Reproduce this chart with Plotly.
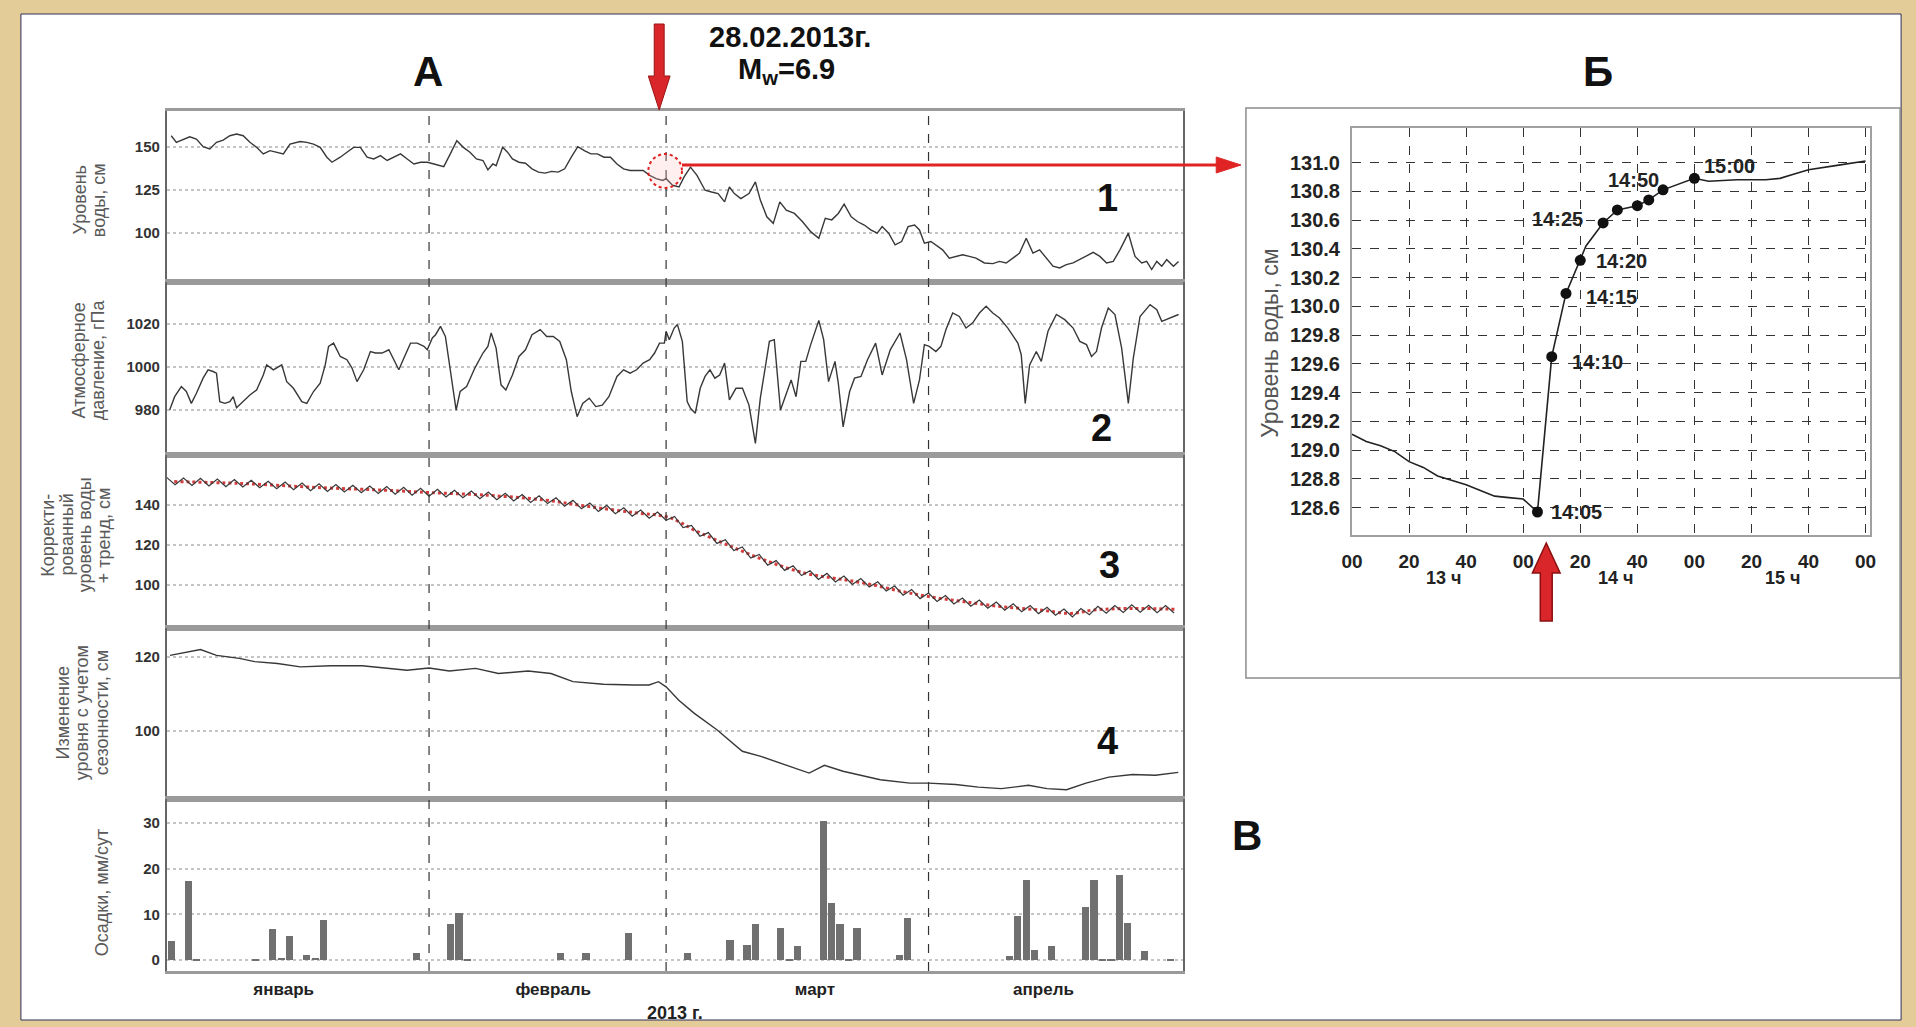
import plotly.graph_objects as go
import pandas as pd

W, H = 1916, 1027
BASE = pd.Timestamp("2013-01-01")

# ---------------- DATA ----------------
# Panel 1: water level, cm  (day offsets from 1 Jan 2013)
p1_day = [0.55, 1.15, 2.73, 3.52, 4.31, 5.10, 5.89, 6.68, 7.47, 8.26,
          9.05, 9.84, 10.63, 11.42, 12.21, 13.00, 13.79, 14.58, 15.77, 16.56,
          17.35, 18.14, 18.93, 19.53, 20.51, 21.30, 22.09, 22.89, 23.68, 24.47,
          25.26, 26.05, 26.84, 27.63, 28.42, 29.21, 30.0, 30.8, 31.58, 32.74,
          33.51, 34.28, 35.05, 35.83, 36.60, 37.37, 37.95, 38.53, 38.92, 39.69,
          40.27, 40.85, 41.62, 42.39, 43.16, 43.93, 44.71, 45.48, 46.25, 47.02,
          47.80, 48.57, 49.34, 50.11, 50.88, 51.66, 52.43, 53.20, 53.97, 54.75,
          55.52, 56.29, 57.06, 57.83, 58.61,
          59.0, 59.77, 60.53, 61.11, 61.88, 62.65, 63.60, 64.37, 65.14, 65.91,
          66.48, 67.06, 67.83, 68.79, 69.55, 70.13, 70.90, 71.66, 72.43, 73.20,
          74.16, 75.12, 76.08, 77.04, 77.80, 78.57, 79.34, 80.03, 80.87, 81.64,
          82.41, 83.17, 83.94, 84.52, 85.29, 86.05, 86.82, 87.59, 88.35, 88.93,
          89.51, 90.28, 90.87, 91.66, 92.45, 93.24, 94.03, 94.82, 95.61, 96.60,
          97.59, 98.38, 99.17, 99.96, 100.75, 101.54, 102.33, 103.12, 103.91, 104.70,
          105.49, 106.28, 107.08, 107.87, 108.66, 109.45, 110.24, 111.03, 111.82, 112.61,
          113.60, 114.39, 115.18, 115.77, 116.36, 116.96, 117.55, 118.14, 118.93, 119.53]
p1_val = [156.3, 152.5, 155.7, 154.4, 150.0, 148.7, 152.5, 153.8, 156.3, 157.3,
          156.3, 152.5, 149.6, 145.8, 147.7, 146.8, 145.8, 151.5, 153.0, 152.5,
          151.5, 149.6, 143.9, 141.0, 143.9, 146.8, 149.6, 149.6, 143.9, 142.9,
          144.8, 142.0, 143.9, 145.8, 142.9, 140.0, 141.0, 141.0, 140.0, 138.5,
          145.8, 153.4, 149.6, 146.8, 142.9, 142.0, 136.6, 140.0, 139.0, 149.6,
          146.8, 142.9, 141.0, 140.4, 137.2, 135.3, 134.7, 135.7, 135.3, 137.2,
          143.9, 150.0, 147.7, 145.8, 145.8, 143.9, 143.9, 140.0, 137.2, 136.2,
          136.2, 136.2, 133.4, 131.5, 130.5,
          131.5, 127.7, 126.7, 132.4, 138.2, 133.4, 124.8, 123.8, 122.9, 118.1,
          126.7, 122.9, 120.0, 122.9, 129.6, 119.1, 109.5, 105.7, 118.1, 113.3,
          111.4, 106.6, 100.9, 97.1, 108.6, 107.7, 111.4, 116.8, 109.5, 106.6,
          104.7, 101.9, 100.0, 103.8, 100.0, 93.3, 95.2, 103.8, 104.7, 101.9,
          94.2, 95.2, 93.3, 90.4, 85.6, 86.6, 87.5, 86.6, 85.6, 82.8,
          82.4, 83.7, 82.8, 85.6, 88.5, 97.1, 88.5, 90.4, 85.6, 80.9,
          79.9, 81.8, 82.8, 84.7, 86.6, 88.9, 86.6, 82.8, 83.7, 90.4,
          100.0, 86.6, 82.8, 83.7, 79.0, 83.7, 80.9, 84.7, 80.9, 83.7]

# Panel 2: atmospheric pressure, hPa
p2_day = [0.36, 0.95, 1.74, 2.33, 2.92, 3.52, 4.31, 4.90, 5.49, 5.89,
          6.28, 6.88, 7.47, 7.87, 8.26, 9.05, 9.84, 10.63, 11.42, 11.82,
          12.61, 13.60, 14.19, 14.98, 15.97, 16.56, 17.35, 18.14, 18.74, 19.13,
          19.72, 20.51, 21.30, 21.90, 22.49, 23.28, 24.07, 24.66, 25.45, 26.25,
          26.84, 27.43, 28.02, 28.81, 29.60, 30.40, 30.79, 31.39, 31.77, 32.35,
          32.93, 33.51, 34.20, 34.67, 35.44, 36.41, 37.37, 37.95, 38.34, 38.92,
          39.50, 40.07, 40.85, 41.62, 42.39, 43.16, 44.13, 44.90, 45.67, 46.44,
          47.22, 47.80, 48.49, 49.15, 49.92, 50.69, 51.46, 52.24, 53.20, 53.97,
          54.75, 55.52, 56.29, 57.06, 57.64, 58.22, 58.80,
          59.0, 59.38, 59.96, 60.34, 60.92, 61.49, 61.88, 62.45, 63.03, 63.60,
          64.18, 64.76, 65.33, 65.91, 66.48, 67.25, 68.02, 68.79, 69.55, 70.13,
          70.70, 71.20, 71.78, 72.51, 73.01, 73.77, 74.35, 74.92, 75.50, 76.08,
          77.04, 77.61, 78.19, 78.95, 79.34, 79.91, 80.68, 81.26, 82.02, 82.79,
          83.75, 84.52, 85.48, 86.63, 87.40, 88.24, 88.93, 89.51, 90.08, 90.87,
          91.46, 92.06, 92.85, 93.64, 94.43, 95.22, 96.01, 96.80, 97.59, 98.38,
          99.37, 100.55, 100.95, 101.42, 101.94, 102.73, 103.32, 104.11, 105.10, 106.09,
          107.08, 107.87, 108.66, 109.25, 109.84, 110.43, 111.23, 112.02, 112.81, 113.60,
          114.19, 114.98, 116.17, 116.96, 117.55, 118.54, 119.53]
p2_val = [980.0, 986.2, 990.9, 988.6, 983.1, 987.8, 994.8, 998.7, 997.9, 997.1,
          983.9, 983.1, 983.9, 986.2, 981.1, 983.9, 987.0, 989.3, 996.3, 1001.0,
          998.7, 1001.0, 993.2, 990.1, 983.9, 983.1, 988.6, 992.5, 1001.0, 1009.6,
          1011.1, 1004.9, 1003.4, 999.5, 993.2, 998.7, 1007.2, 1006.5, 1006.5, 1008.0,
          1003.4, 998.7, 1004.1, 1011.1, 1011.1, 1009.6, 1008.0, 1013.5, 1015.0, 1018.9,
          1014.2, 999.5, 980.0, 988.6, 990.9, 999.5, 1006.5, 1009.6, 1015.8, 1008.8,
          991.7, 989.3, 996.3, 1004.9, 1008.0, 1015.0, 1017.4, 1014.2, 1014.2, 1011.9,
          1003.4, 988.6, 976.9, 983.1, 985.5, 981.6, 982.3, 986.2, 995.6, 998.7,
          997.1, 998.7, 1001.8, 1003.4, 1006.5, 1011.1, 1011.1,
          1016.6, 1012.7, 1018.1, 1019.7, 1011.9, 983.9, 980.8, 978.5, 990.1, 995.6,
          998.7, 994.8, 996.3, 1001.8, 984.7, 990.1, 990.1, 982.3, 964.5, 985.5,
          999.5, 1011.9, 1012.7, 980.0, 985.5, 994.0, 986.2, 1002.6, 1002.6, 1010.4,
          1021.6, 1012.7, 993.2, 1002.6, 992.5, 972.2, 988.6, 994.8, 995.6, 1003.4,
          1011.1, 996.3, 1008.0, 1015.8, 1003.4, 983.1, 994.0, 1010.4, 1009.6, 1007.2,
          1009.6, 1017.4, 1025.1, 1023.5, 1018.1, 1020.5, 1025.1, 1028.2, 1025.1, 1022.8,
          1018.1, 1011.1, 1005.7, 983.1, 1001.0, 1007.2, 1002.6, 1016.6, 1024.4, 1022.0,
          1018.1, 1011.9, 1010.4, 1004.9, 1007.2, 1018.1, 1027.4, 1024.4, 1008.8, 983.1,
          1004.1, 1023.5, 1029.0, 1026.6, 1021.2, 1022.8, 1024.4]

# Panel 3: corrected water level + trend, cm (daily values)
p3_day = list(range(120))
p3_val = [153.8, 150.1, 153.5, 149.8, 153.3, 149.5, 153.0, 149.2, 152.7, 149.0,
          152.4, 148.6, 151.9, 148.1, 151.5, 147.7, 151.0, 147.2, 150.6, 146.8,
          150.2, 146.5, 149.9, 146.1, 149.5, 145.8, 149.2, 145.4, 148.8, 144.9,
          148.3, 144.4, 147.8, 144.0, 147.4, 143.6, 147.0, 143.2, 146.5, 142.6,
          145.9, 142.0, 145.2, 141.3, 144.6, 140.7, 143.6, 139.4, 142.3, 138.1,
          141.0, 136.8, 139.8, 135.6, 138.6, 134.4, 137.5, 133.4, 136.5, 132.4,
          134.3, 128.7, 129.8, 124.4, 126.2, 120.8, 122.6, 117.2, 119.0, 113.5,
          115.3, 109.9, 112.2, 107.3, 109.6, 104.7, 107.1, 102.8, 105.8, 101.5,
          104.5, 100.3, 103.2, 99.0, 101.6, 97.0, 99.5, 94.9, 97.7, 93.2,
          96.0, 91.8, 94.7, 90.5, 93.5, 89.4, 92.5, 88.4, 91.5, 87.4,
          90.6, 86.6, 89.7, 85.7, 88.9, 84.9, 88.0, 84.0, 88.2, 85.1,
          89.3, 85.9, 89.7, 86.3, 90.1, 86.4, 89.9, 86.2, 89.7, 86.0]
trend_day = [0.9, 8.6, 17.6, 26.7, 31, 37.4, 44.6, 49.9, 55.2, 59, 60.5, 62.3, 66.7,
             71.1, 75.5, 79, 82.6, 86.9, 90, 94.1, 98.6, 103.2, 106.8, 109.5, 114.1, 119.4]
trend_val = [151.7, 150.8, 148.8, 147.2, 146.2, 145.0, 142.5, 139.2, 136.2, 134.2, 131.7,
             127.5, 119.2, 111.7, 105.8, 103.3, 100.8, 96.7, 94.2, 91.7, 89.2, 87.5,
             85.8, 87.5, 88.3, 87.8]

# Panel 4: level change accounting for seasonality, cm
p4_day = [0.4, 4.0, 5.9, 8.6, 10.4, 13.1, 15.8, 19.4, 23.1, 25.7, 28.4, 31, 33.4,
          36.5, 39.2, 42.7, 45.4, 48.0, 51.6, 55.2, 57.0, 58.1, 59, 60.5, 62.3, 65.0,
          68.0, 70.2, 72.9, 75.9, 77.7, 79.9, 84.3, 87.8, 90, 93.2, 95.9, 98.6, 101.8,
          104.0, 106.3, 108.6, 111.3, 114.1, 116.8, 119.5]
p4_val = [120.4, 122.0, 120.4, 119.6, 118.7, 118.2, 117.3, 117.6, 117.6, 117.0, 116.4,
          117.0, 116.2, 116.9, 115.5, 116.2, 115.5, 113.3, 112.6, 112.4, 112.4, 113.3,
          111.9, 108.3, 104.8, 100.3, 94.5, 93.1, 90.9, 88.6, 90.7, 89.1, 86.8, 85.9,
          85.9, 85.5, 84.8, 84.4, 85.3, 84.4, 84.1, 85.9, 87.5, 88.2, 88.0, 88.8]

# Panel 5: precipitation, mm/day
rain_day = [0, 2, 3, 10, 12, 13, 14, 16, 17, 18, 29, 33, 34, 35, 46, 49, 54, 61, 66,
            68, 69, 72, 73, 74, 77, 78, 79, 80, 81, 86, 87, 99, 100, 101, 102, 104,
            108, 109, 110, 111, 112, 113, 115, 118]
rain_val = [4.1, 17.2, 0.3, 0.3, 6.8, 0.5, 5.2, 1.0, 0.5, 8.7, 1.6, 7.8, 10.2, 0.3, 1.6,
            1.6, 6.0, 1.5, 4.4, 3.2, 7.8, 6.9, 0.3, 3.1, 30.3, 12.5, 7.8, 0.3, 7.1, 1.2,
            9.2, 0.9, 9.6, 17.5, 2.3, 3.1, 11.6, 17.5, 0.3, 0.3, 18.5, 8.1, 2.0, 0.3]

month_ticks = ["2013-01-14 20:00", "2013-02-15 16:00", "2013-03-18 14:00", "2013-04-14 14:00"]
month_names = ["январь", "февраль", "март", "апрель"]
month_bounds = ["2013-02-01", "2013-03-01", "2013-04-01"]

# Panel B: water level on 28.02.2013, 13:00-16:00
b_time = ["13:00", "13:05", "13:10", "13:15", "13:20", "13:25", "13:30", "13:35", "13:40",
          "13:45", "13:50", "13:55", "14:00", "14:05", "14:10", "14:15", "14:20", "14:22",
          "14:28", "14:33", "14:40", "14:44", "14:49", "15:00", "15:05", "15:15", "15:25",
          "15:30", "15:35", "15:40", "15:50", "16:00"]
b_val = [129.11, 129.06, 129.03, 128.99, 128.92, 128.88, 128.82, 128.79, 128.76,
         128.72, 128.68, 128.67, 128.66, 128.57, 129.65, 130.09, 130.32, 130.42,
         130.58, 130.67, 130.70, 130.74, 130.81, 130.89, 130.87, 130.88, 130.88,
         130.89, 130.92, 130.95, 130.98, 131.01]
b_dot_time = ["14:05", "14:10", "14:15", "14:20", "14:28", "14:33", "14:40", "14:44", "14:49", "15:00"]
b_dot_val = [128.57, 129.65, 130.09, 130.32, 130.58, 130.67, 130.70, 130.74, 130.81, 130.89]
b_xticks = ["13:00", "13:20", "13:40", "14:00", "14:20", "14:40", "15:00", "15:20", "15:40", "16:00"]
b_xticktext = ["00", "20", "40", "00", "20", "40", "00", "20", "40", "00"]
b_yticks = [128.6, 128.8, 129.0, 129.2, 129.4, 129.6, 129.8, 130.0, 130.2, 130.4, 130.6, 130.8, 131.0]
b_labels = ["14:05", "14:10", "14:15", "14:20", "14:25", "14:50", "15:00"]
b_label_at = ["14:05", "14:10", "14:15", "14:20", "14:28", "14:40", "15:00"]
b_label_val = [128.57, 129.65, 130.09, 130.32, 130.58, 130.70, 130.89]

# ---------------- HELPERS ----------------
NARROW = "Liberation Sans Narrow, Arial Narrow, Liberation Sans, Arial, sans-serif"
SANS = "Liberation Sans, Arial, sans-serif"
DAY = "2013-02-28 "


def dates(days):
    return [BASE + pd.Timedelta(days=float(d)) for d in days]


def bt(t):
    return DAY + t


def fx(x):
    return x / W


def fy(y):
    return 1 - y / H


def path(points):
    return "M " + " L ".join(f"{fx(x):.5f},{fy(y):.5f}" for x, y in points) + " Z"


fig = go.Figure()

LINE = "#383838"
fig.add_trace(go.Scatter(x=dates(p1_day), y=p1_val, mode="lines",
                         line=dict(color=LINE, width=1.4), xaxis="x", yaxis="y"))
fig.add_trace(go.Scatter(x=dates(p2_day), y=p2_val, mode="lines",
                         line=dict(color=LINE, width=1.4), xaxis="x2", yaxis="y2"))
fig.add_trace(go.Scatter(x=dates(trend_day), y=trend_val, mode="lines", line_shape="spline",
                         line=dict(color="#d23c3c", width=3, dash="dot"), xaxis="x3", yaxis="y3"))
fig.add_trace(go.Scatter(x=dates(p3_day), y=p3_val, mode="lines",
                         line=dict(color=LINE, width=1.2), xaxis="x3", yaxis="y3"))
fig.add_trace(go.Scatter(x=dates(p4_day), y=p4_val, mode="lines",
                         line=dict(color=LINE, width=1.4), xaxis="x4", yaxis="y4"))
fig.add_trace(go.Bar(x=dates([d + 0.5 for d in rain_day]), y=rain_val, width=0.85 * 86400000,
                     marker=dict(color="#707070", line=dict(width=0)), xaxis="x5", yaxis="y5"))
fig.add_trace(go.Scatter(x=[bt(t) for t in b_time], y=b_val, mode="lines",
                         line=dict(color="#222", width=1.6), xaxis="x6", yaxis="y6"))
fig.add_trace(go.Scatter(x=[bt(t) for t in b_dot_time], y=b_dot_val, mode="markers",
                         marker=dict(color="#111", size=11), xaxis="x6", yaxis="y6"))

# ---------------- AXES ----------------
domA = [fx(157), fx(1182)]
rows = [(111, 282), (282, 455), (455, 628), (628, 799), (799, 971)]
yranges = [[71.8, 170.6], [959.1, 1039.5], [78.5, 165], [81.6, 127.8], [-2.4, 35.2]]
yticks = [[100, 125, 150], [980, 1000, 1020], [100, 120, 140], [100, 120], [0, 10, 20, 30]]

layout = dict(width=W, height=H, margin=dict(l=0, r=0, t=0, b=0),
              paper_bgcolor="#e3cc98", plot_bgcolor="white", showlegend=False,
              bargap=0)
for i, ((top, bot), yr, yt) in enumerate(zip(rows, yranges, yticks), start=1):
    sfx = "" if i == 1 else str(i)
    layout["xaxis" + sfx] = dict(
        domain=domA, anchor="y" + sfx, type="date",
        range=["2013-01-01", "2013-05-01"], showgrid=False, zeroline=False,
        showline=True, mirror=True, linecolor="#9a9a9a", linewidth=3,
        ticks="", showticklabels=(i == 5),
        tickvals=month_ticks if i == 5 else None,
        ticktext=month_names if i == 5 else None,
        tickfont=dict(family=NARROW, size=17, color="#222", weight="bold"),
        ticklabelstandoff=1,
    )
    layout["yaxis" + sfx] = dict(
        domain=[fy(bot), fy(top)], anchor="x" + sfx, range=yr, tickvals=yt,
        showgrid=True, gridcolor="#c4c4c4", griddash="dot", gridwidth=2,
        zeroline=False, showline=True, mirror=True, linecolor="#666", linewidth=1.5,
        ticks="", ticklabelstandoff=2,
        tickfont=dict(family=NARROW, size=15, color="#333", weight="bold"),
    )

layout["xaxis6"] = dict(
    domain=[fx(1353), fx(1876)], anchor="y6", type="date",
    range=[bt("13:00"), bt("16:01:40")], tickvals=[bt(t) for t in b_xticks],
    ticktext=b_xticktext, showgrid=True, gridcolor="#333", griddash="dash", gridwidth=1,
    zeroline=False, showline=True, mirror=True, linecolor="#a0a0a0", linewidth=2,
    ticks="", ticklabelstandoff=8,
    tickfont=dict(family=SANS, size=19, color="#222", weight="bold"),
)
layout["yaxis6"] = dict(
    domain=[fy(535), fy(128)], anchor="x6", range=[128.41, 131.24], tickvals=b_yticks,
    tickformat=".1f", showgrid=True, gridcolor="#333", griddash="dash", gridwidth=1,
    zeroline=False, showline=True, mirror=True, linecolor="#a0a0a0", linewidth=2,
    ticks="", ticklabelstandoff=6,
    tickfont=dict(family=SANS, size=20, color="#222", weight="bold"),
)

# ---------------- SHAPES ----------------
shapes = [
    dict(type="rect", xref="paper", yref="paper", x0=fx(10), x1=fx(1907), y0=fy(1020), y1=fy(14),
         fillcolor="white", line=dict(color="#30305a", width=1), layer="below"),
    dict(type="rect", xref="paper", yref="paper", x0=fx(1246), x1=fx(1906), y0=fy(678), y1=fy(108),
         fillcolor="white", line=dict(color="#8c8c8c", width=1.5), layer="below"),
]
for mb in month_bounds:
    shapes.append(dict(type="line", xref="x", yref="paper", x0=mb, x1=mb, y0=fy(971), y1=fy(111),
                       line=dict(color="#333", width=1.2, dash="dash")))
# red dotted circle around the event in panel 1
shapes.append(dict(type="circle", xref="paper", yref="paper", x0=fx(643), x1=fx(677),
                   y0=fy(188), y1=fy(154), fillcolor="rgba(255,190,190,0.25)",
                   line=dict(color="#e02020", width=2, dash="dot")))
# red connector arrow to panel B
shapes.append(dict(type="line", xref="paper", yref="paper", x0=fx(677), x1=fx(1222),
                   y0=fy(165), y1=fy(165), line=dict(color="#e02424", width=3)))
shapes.append(dict(type="path", xref="paper", yref="paper",
                   path=path([(1216, 157), (1241, 165), (1216, 173)]),
                   fillcolor="#e02424", line=dict(color="#e02424", width=1)))
# red down arrow (event marker)
shapes.append(dict(type="path", xref="paper", yref="paper",
                   path=path([(649, 24), (659, 24), (659, 76), (665, 76), (654, 110),
                              (643, 76), (649, 76)]),
                   fillcolor="#d8262a", line=dict(color="#9a1414", width=1)))
# red up arrow in panel B
shapes.append(dict(type="path", xref="paper", yref="paper",
                   path=path([(1549, 543), (1563, 573), (1555, 573), (1555, 621),
                              (1543, 621), (1543, 573), (1535, 573)]),
                   fillcolor="#d8262a", line=dict(color="#8a1010", width=1.5)))
layout["shapes"] = shapes


# ---------------- ANNOTATIONS ----------------
def ann(text, x, y, size, color="#111", family=SANS, bold=True, angle=0,
        xanchor="center", yanchor="middle"):
    return dict(text=text, x=fx(x), y=fy(y), xref="paper", yref="paper", showarrow=False,
                font=dict(size=size, color=color, family=family,
                          weight="bold" if bold else "normal"),
                textangle=angle, xanchor=xanchor, yanchor=yanchor)


anns = [
    ann("А", 421, 71, 42),
    ann("Б", 1601, 71, 42),
    ann("В", 1247, 835, 42),
    ann("28.02.2013г.", 786, 37, 29, family=NARROW),
    ann("M<sub>w</sub>=6.9", 782, 71, 29, family=NARROW),
    ann("1", 1106, 198, 38, family=NARROW),
    ann("2", 1100, 428, 38, family=NARROW),
    ann("3", 1108, 565, 38, family=NARROW),
    ann("4", 1106, 741, 38, family=NARROW),
    ann("2013 г.", 670, 1013, 18, color="#222", family=NARROW),
    ann("Уровень воды, см", 1270, 343, 23, color="#555", bold=False, angle=-90),
    ann("13 ч", 1445, 578, 18, color="#222"),
    ann("14 ч", 1619, 578, 18, color="#222"),
    ann("15 ч", 1787, 578, 18, color="#222"),
]
# multi-line rotated axis titles of panel A, one annotation per line
ytitle_lines = [
    (["Уровень", "воды, см"], [70, 89], 200),
    (["Атмосферное", "давление, гПа"], [69, 88], 360),
    (["Корректи-", "рованный", "уровень воды", "+ тренд, см"], [37, 56, 75, 94], 535),
    (["Изменение", "уровня с учетом", "сезонности, см"], [52, 72, 92], 713),
    (["Осадки, мм/сут"], [92], 893),
]
for lines, xs, yc in ytitle_lines:
    for t, x in zip(lines, xs):
        anns.append(ann(t, x, yc, 18, color="#5a5a5a", bold=False, angle=-90))

label_pos = [("left", 12, 0), ("left", 18, -5), ("left", 18, -4), ("left", 14, -1),
             ("right", -18, 4), ("center", -4, 26), ("left", 8, 12)]
for txt, t, v, (xa, xs, ys) in zip(b_labels, b_label_at, b_label_val, label_pos):
    anns.append(dict(text=txt, x=bt(t), y=v, xref="x6", yref="y6", showarrow=False,
                     xanchor=xa, yanchor="middle", xshift=xs, yshift=ys,
                     font=dict(size=20, color="#222", family=SANS, weight="bold")))
layout["annotations"] = anns

fig.update_layout(**layout)
fig.write_html("out.html")
